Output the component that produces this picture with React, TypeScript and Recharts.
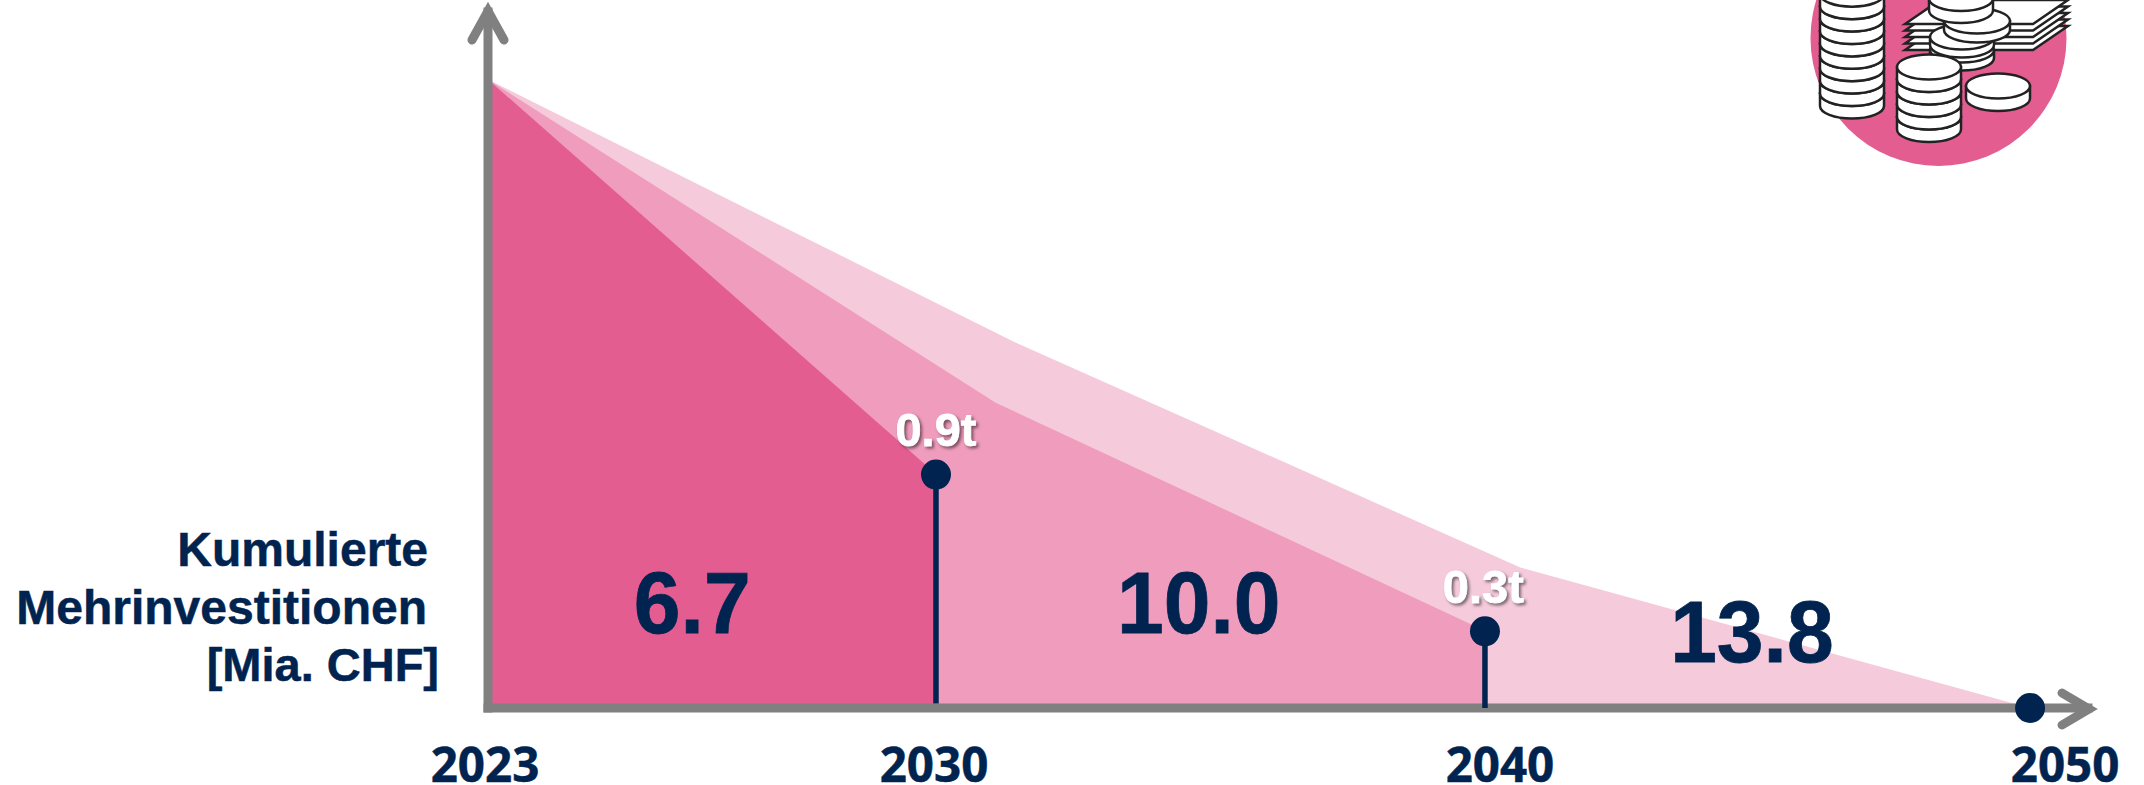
import React from 'react';
import { ComposedChart, Area, XAxis, YAxis, ReferenceLine, ReferenceDot } from 'recharts';

// Axis positions are on a 0-100 scale (the time axis of the original is not linear in years).
const yearLabels = ['2023', '2030', '2040', '2050'];
const yearPositions = [0, 27.86, 62, 95.9];
const yearLabelShift = [-3, -2, 15, 35];

const darkX = [0, 27.86];
const darkY = [89.4, 33.3];
const mediumX = [0, 31.6, 62];
const mediumY = [89.4, 43.4, 11];
const lightX = [0, 32.7, 64.2, 95.9];
const lightY = [89.4, 52.1, 20, 0];

const milestoneX = [27.86, 62, 95.9];
const milestoneY = [33.2, 10.9, 0];

const totalLabels = ['6.7', '10.0', '13.8'];
const totalX = [12.7, 44.2, 78.6];
const totalY = [10.6, 10.6, 6.5];

const reductionLabels = ['0.9t', '0.3t'];
const reductionX = [27.86, 61.9];
const reductionY = [37.3, 15.0];

const titleLines = ['Kumulierte', 'Mehrinvestitionen', '[Mia. CHF]'];

const toRows = (xs: number[], ys: number[]) => xs.map((x, i) => ({ x, y: ys[i] }));

const NAVY = '#00234F';
const GRAY = '#808080';
const SANS = '"Liberation Sans", Arial, sans-serif';

function Coin({ cx, cy, rx = 32, ry = 12.5, h = 12.5 }: { cx: number; cy: number; rx?: number; ry?: number; h?: number }) {
  const d = `M${cx - rx} ${cy} L${cx - rx} ${cy + h} A${rx} ${ry} 0 0 0 ${cx + rx} ${cy + h} L${cx + rx} ${cy} Z`;
  return (
    <g fill="#fff" stroke="#222" strokeWidth={2.5}>
      <path d={d} />
      <ellipse cx={cx} cy={cy} rx={rx} ry={ry} />
    </g>
  );
}

function Icon() {
  const stackA = [93.5, 81, 68.6, 56.2, 43.8, 31.4, 19, 6.6, -5.8];
  const stackB = [117, 104.5, 92, 79.5, 67];
  const bills = [50, 43.5, 37, 30.5, 24];
  return (
    <g>
      <circle cx={1938.5} cy={38} r={128} fill="#E35D90" />
      {bills.map((y) => (
        <path
          key={y}
          d={`M1905 ${y} L1940 ${y - 24} L2068 ${y - 24} L2033 ${y} Z`}
          fill="#fff"
          stroke="#222"
          strokeWidth={2.5}
        />
      ))}
      <Coin cx={1962} cy={50} h={8} />
      <Coin cx={1962} cy={37} h={8} />
      <Coin cx={1977} cy={21} rx={33} h={9} />
      <Coin cx={1961} cy={-2} />
      <Coin cx={1961} cy={-14} />
      {stackA.map((cy) => (
        <Coin key={cy} cx={1852} cy={cy} />
      ))}
      {stackB.map((cy) => (
        <Coin key={cy} cx={1929} cy={cy} />
      ))}
      <Coin cx={1998} cy={86} />
    </g>
  );
}

const bigShape = (text: string) => (p: any) => (
  <text
    transform={`translate(${p.cx} ${p.cy}) scale(0.96 1)`}
    textAnchor="middle"
    fontFamily={SANS}
    fontWeight={700}
    fontSize={87.5}
    fill={NAVY}
    stroke={NAVY}
    strokeWidth={0.8}
  >
    {text}
  </text>
);

const smallShape = (text: string) => (p: any) => (
  <text
    x={p.cx}
    y={p.cy}
    textAnchor="middle"
    fontFamily={SANS}
    fontWeight={700}
    fontSize={47}
    fill="#fff"
    stroke="#fff"
    strokeWidth={0.8}
    style={{ filter: 'drop-shadow(2px 2px 1.5px rgba(0,0,0,0.5))' }}
  >
    {text}
  </text>
);

const YearTick = (p: any) => (
  <text
    x={p.x + yearLabelShift[p.index]}
    y={782}
    textAnchor="middle"
    fontFamily='"Open Sans", sans-serif'
    fontWeight={700}
    fontSize={47.5}
    fill={NAVY}
    stroke={NAVY}
    strokeWidth={0.5}
  >
    {yearLabels[p.index]}
  </text>
);

export default function App() {
  return (
    <div style={{ position: 'absolute', left: 0, top: 0, width: 2144, height: 785, background: '#fff' }}>
      <ComposedChart width={2144} height={785} margin={{ top: 5, right: 48, bottom: 0, left: 488 }}>
        <XAxis
          type="number"
          dataKey="x"
          domain={[0, 100]}
          ticks={yearPositions}
          interval={0}
          height={77}
          axisLine={false}
          tickLine={false}
          tick={YearTick}
        />
        <YAxis type="number" domain={[0, 100]} hide />
        <Area data={toRows(lightX, lightY)} dataKey="y" type="linear" fill="#F5CBDC" fillOpacity={1} stroke="none" isAnimationActive={false} />
        <Area data={toRows(mediumX, mediumY)} dataKey="y" type="linear" fill="#F09CBC" fillOpacity={1} stroke="none" isAnimationActive={false} />
        <Area data={toRows(darkX, darkY)} dataKey="y" type="linear" fill="#E35D90" fillOpacity={1} stroke="none" isAnimationActive={false} />

        <ReferenceLine segment={[{ x: milestoneX[0], y: 0.6 }, { x: milestoneX[0], y: milestoneY[0] }]} stroke={NAVY} strokeWidth={5.5} ifOverflow="visible" />
        <ReferenceLine segment={[{ x: 0, y: 0 }, { x: 0, y: 99 }]} stroke={GRAY} strokeWidth={9} strokeLinecap="square" ifOverflow="visible" />
        <ReferenceLine segment={[{ x: 0, y: 0 }, { x: 99.5, y: 0 }]} stroke={GRAY} strokeWidth={9} strokeLinecap="square" ifOverflow="visible" />
        <ReferenceLine segment={[{ x: milestoneX[1], y: 0 }, { x: milestoneX[1], y: milestoneY[1] }]} stroke={NAVY} strokeWidth={5.5} ifOverflow="visible" />
        {milestoneX.map((x, i) => (
          <ReferenceDot key={x} x={x} y={milestoneY[i]} r={15} fill={NAVY} stroke="none" ifOverflow="visible" />
        ))}

        {totalLabels.map((t, i) => (
          <ReferenceDot key={t} x={totalX[i]} y={totalY[i]} r={0} ifOverflow="visible" shape={bigShape(t)} />
        ))}
        {reductionLabels.map((t, i) => (
          <ReferenceDot key={t} x={reductionX[i]} y={reductionY[i]} r={0} ifOverflow="visible" shape={smallShape(t)} />
        ))}

        <path d="M472 40 L488 11 L504 40" fill="none" stroke={GRAY} strokeWidth={9} strokeLinecap="round" strokeLinejoin="miter" />
        <path d="M2062 693 L2089 709 L2062 725" fill="none" stroke={GRAY} strokeWidth={9} strokeLinecap="round" strokeLinejoin="miter" />

        <g fontFamily={SANS} fontWeight={700} fontSize={48} fill={NAVY} textAnchor="end" stroke={NAVY} strokeWidth={0.5}>
          <text x={428} y={566}>{titleLines[0]}</text>
          <text x={427} y={624}>{titleLines[1]}</text>
          <text x={439} y={681} fontSize={47}>{titleLines[2]}</text>
        </g>
        <Icon />
      </ComposedChart>
    </div>
  );
}
